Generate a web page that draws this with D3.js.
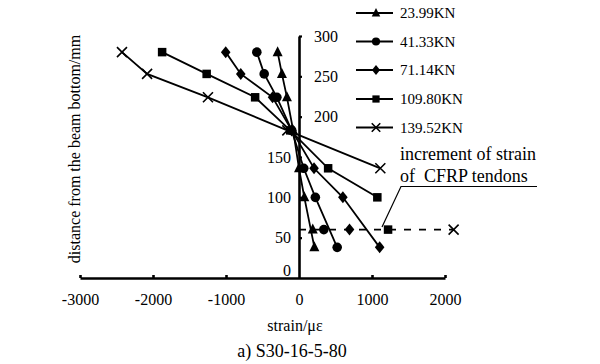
<!DOCTYPE html>
<html><head><meta charset="utf-8">
<script src="https://cdn.jsdelivr.net/npm/d3@7"></script>
<style>body{margin:0;background:#fff}svg{display:block}svg text{font-family:"Liberation Serif","Times New Roman",Times,"DejaVu Serif",serif !important;fill:#000;white-space:pre}</style>
</head><body><svg id="c" width="600" height="364" font-family="Liberation Serif"></svg>
<script>
const seriesNames = ["23.99KN","41.33KN","71.14KN","109.80KN","139.52KN"];
const heights = [280,253,224,183,136,100,38];
const s1 = [-293,-234,-165,-80,0,73,211];
const s2 = [-578,-477,-303,-100,65,224,523];
const s3 = [-1004,-798,-362,-100,206,601,1105];
const s4 = [-1875,-1265,-601,-120,399,1073];
const s5 = [-2425,-2081,-1247,-160,1114];
const cfrpHeight = 60;
const cfrpStrain = [188,340,692,1220,2118];
const xTicks = [-3000,-2000,-1000,0,1000,2000];
const yTicks = [0,50,100,150,200,250,300];
const xTitle = "strain/με";
const yTitle = "distance from the beam bottom/mm";
const caption = "a) S30-16-5-80";
const noteLines = ["increment of strain","of  CFRP tendons"];

const FONT = "Liberation Serif";
const svg = d3.select("#c");
const x = d3.scaleLinear().domain([-3000,2000]).range([80,445]);
const y = d3.scaleLinear().domain([0,300]).range([278,36]);
const allSeries = [s1,s2,s3,s4,s5];
const shapes = ["tri","circ","dia","sq","x"];

function marker(g, type, cx, cy, scale){
  scale = scale||1;
  if(type==="tri"){
    const h=10*scale, w=10*scale;
    g.append("path").attr("d",`M${cx},${cy-h*0.6}L${cx+w/2},${cy+h*0.4}L${cx-w/2},${cy+h*0.4}Z`).attr("fill","#000");
  } else if(type==="circ"){
    g.append("circle").attr("cx",cx).attr("cy",cy).attr("r",4.8*scale).attr("fill","#000");
  } else if(type==="dia"){
    const hw=4.8*scale, hh=6*scale;
    g.append("path").attr("d",`M${cx},${cy-hh}L${cx+hw},${cy}L${cx},${cy+hh}L${cx-hw},${cy}Z`).attr("fill","#000");
  } else if(type==="sq"){
    const s=8.5*scale;
    g.append("rect").attr("x",cx-s/2).attr("y",cy-s/2).attr("width",s).attr("height",s).attr("fill","#000");
  } else {
    const r=5*scale;
    g.append("path").attr("d",`M${cx-r},${cy-r}L${cx+r},${cy+r}M${cx-r},${cy+r}L${cx+r},${cy-r}`).attr("stroke","#000").attr("stroke-width",1.6).attr("fill","none");
  }
}
function txt(sel){ return sel.attr("font-family",FONT).attr("fill","#000"); }

// axes
const xAxis = d3.axisBottom(x).tickValues(xTicks).tickSizeInner(-3).tickSizeOuter(0).tickPadding(16).tickFormat(d=>String(d));
const gx = svg.append("g").attr("transform",`translate(0,${y(0)})`).call(xAxis);
gx.attr("font-family",FONT);
gx.select(".domain").attr("stroke","#000").attr("stroke-width",2.6);
gx.selectAll(".tick line").attr("stroke","#000").attr("stroke-width",2.6);
gx.selectAll(".tick text").style("font-size","16px").attr("font-family",FONT).attr("fill","#000");
gx.selectAll(".tick").filter(d=>d===0).select("line").remove();

const yAxis = d3.axisRight(y).tickValues(yTicks).tickSizeInner(3).tickSizeOuter(0).tickFormat("");
const gy = svg.append("g").attr("transform",`translate(${x(0)},0)`).call(yAxis);
gy.select(".domain").attr("stroke","#000").attr("stroke-width",2.6);
gy.selectAll(".tick line").attr("stroke","#000").attr("stroke-width",2.2);
gy.selectAll(".tick").filter(d=>d===0).select("line").remove();

yTicks.forEach(v=>{
  const upper = v>=200;
  txt(svg.append("text")).attr("x", upper ? x(0)+15 : x(0)-8)
    .attr("y", y(v) + (v===0 ? -8 : 0)).attr("dy","0.35em")
    .attr("text-anchor", upper ? "start":"end").style("font-size","16px").text(v);
});

// series lines
const line = d3.line().x(d=>x(d[0])).y(d=>y(d[1]));
allSeries.forEach((s,i)=>{
  const pts = s.map((v,j)=>[v,heights[j]]);
  svg.append("path").attr("d",line(pts)).attr("fill","none").attr("stroke","#000").attr("stroke-width",1.8);
});
// CFRP dashed line
svg.append("path").attr("d",line([[0,cfrpHeight],[cfrpStrain[4],cfrpHeight]]))
  .attr("fill","none").attr("stroke","#000").attr("stroke-width",1.6).attr("stroke-dasharray","7,8");

allSeries.forEach((s,i)=>{
  const g = svg.append("g");
  s.forEach((v,j)=>marker(g,shapes[i],x(v),y(heights[j])));
  marker(g,shapes[i],x(cfrpStrain[i]),y(cfrpHeight));
});

// legend
const legY = [13,41.5,70,99,127.5];
seriesNames.forEach((n,i)=>{
  const g = svg.append("g");
  g.append("line").attr("x1",356).attr("x2",393).attr("y1",legY[i]).attr("y2",legY[i]).attr("stroke","#000").attr("stroke-width",1.8);
  marker(g,shapes[i],376,legY[i],0.85);
  txt(g.append("text")).attr("x",400).attr("y",legY[i]).attr("dy","0.35em").style("font-size","15px").text(n);
});

// annotation
txt(svg.append("text")).attr("x",400).attr("y",160).style("font-size","18px").text(noteLines[0]);
txt(svg.append("text")).attr("x",400).attr("y",182).attr("xml:space","preserve").style("font-size","18px").text(noteLines[1]);
svg.append("path").attr("d","M537,186.5L401,186.5L382,227").attr("fill","none").attr("stroke","#000").attr("stroke-width",1.2);

// titles
txt(svg.append("text")).attr("x",295).attr("y",331).attr("text-anchor","middle").style("font-size","16px").text(xTitle);
txt(svg.append("text")).attr("x",292).attr("y",357).attr("text-anchor","middle").style("font-size","18px").text(caption);
txt(svg.append("text")).attr("transform","translate(80,149) rotate(-90)").attr("text-anchor","middle").style("font-size","16px").text(yTitle);
</script></body></html>
